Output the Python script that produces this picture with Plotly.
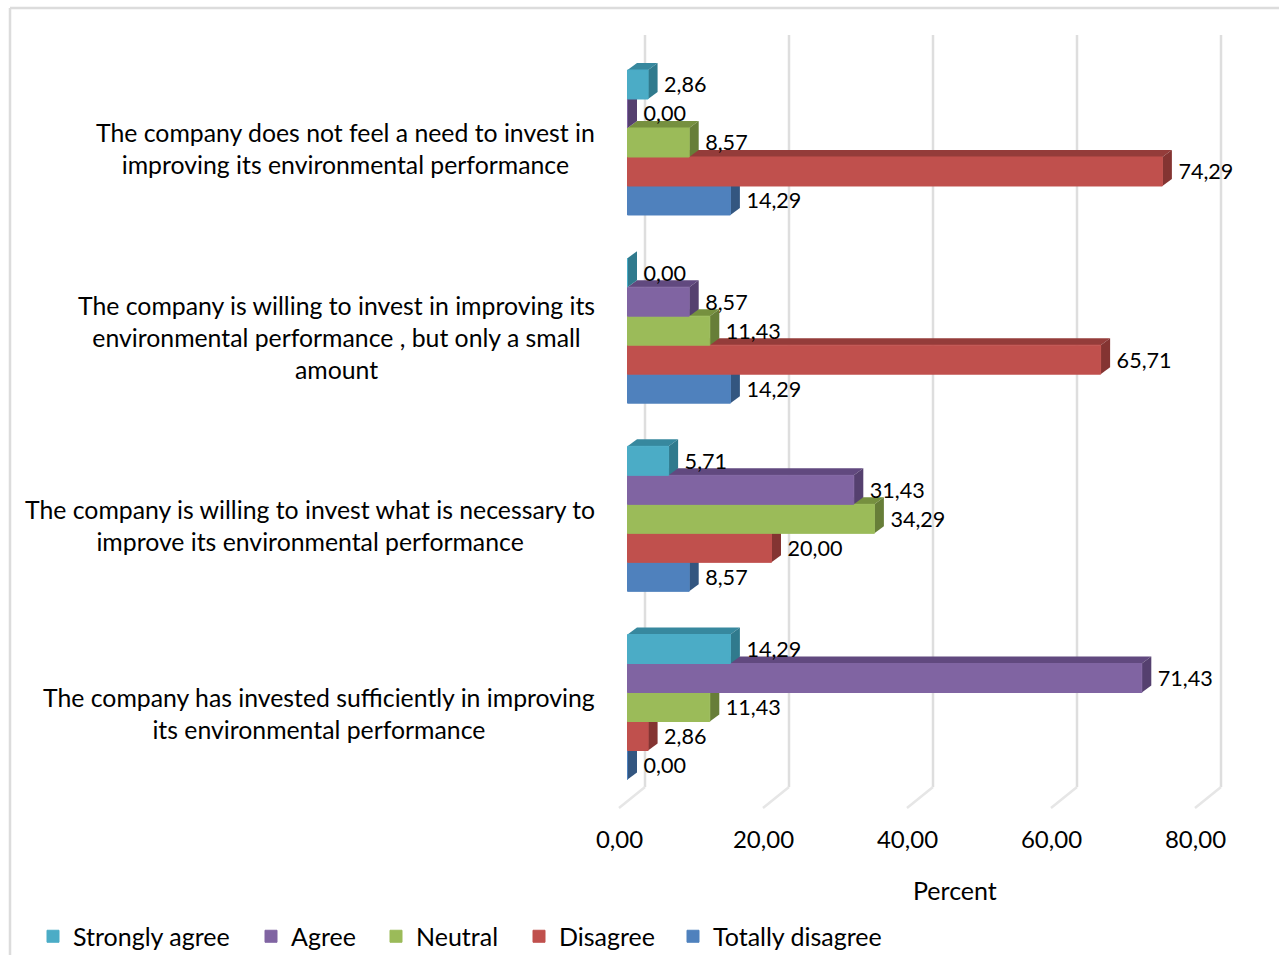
import plotly.graph_objects as go

categories = [
    "The company has invested sufficiently in improving<br>its environmental performance",
    "The company is willing to invest what is necessary to<br>improve its environmental performance",
    "The company is willing to invest in improving its<br>environmental performance , but only a small<br>amount",
    "The company does not feel a need to invest in<br>improving its environmental performance",
]
series_names = ["Totally disagree", "Disagree", "Neutral", "Agree", "Strongly agree"]
totally_disagree = [0.00, 8.57, 14.29, 14.29]
disagree = [2.86, 20.00, 65.71, 74.29]
neutral = [11.43, 34.29, 11.43, 8.57]
agree = [71.43, 31.43, 8.57, 0.00]
strongly_agree = [14.29, 5.71, 0.00, 2.86]
series_values = [totally_disagree, disagree, neutral, agree, strongly_agree]
front_colors = ["#4f81bd", "#c0504d", "#9bbb59", "#8064a2", "#4bacc6"]
top_colors = ["#3b6392", "#943c3a", "#76903f", "#61497f", "#37889e"]
side_colors = ["#335680", "#843432", "#677e38", "#55406f", "#307a8d"]
x_ticks = [0, 20, 40, 60, 80]
legend_px = [673, 519, 376, 251, 33]

W, H = 1279, 955
FONT = "Lato"
PLOT_L, PLOT_R, PLOT_T, PLOT_B = 610, 1240, 30, 812
X0_PX, X_SCALE = 627.5, 7.2          # pixels at value 0, pixels per percent
Y0_PX, Y_SCALE = 707.0, 188.17       # pixels at first category, pixels per category
BAR_PX = 29.0
DEPTH_DX, DEPTH_DY = 9.5 / X_SCALE, 7.0 / Y_SCALE
WALL_DX = 17.5 / X_SCALE
bar_w = BAR_PX / Y_SCALE

x_range = [(PLOT_L - X0_PX) / X_SCALE, (PLOT_R - X0_PX) / X_SCALE]
y_range = [(Y0_PX - PLOT_B) / Y_SCALE, (Y0_PX - PLOT_T) / Y_SCALE]


def paper_x(px):
    return (px - PLOT_L) / (PLOT_R - PLOT_L)


def paper_y(py):
    return (PLOT_B - py) / (PLOT_B - PLOT_T)


def poly(points):
    return "M" + "L".join(f"{x},{y}" for x, y in points) + "Z"


shapes = []
# Frame of the picture
frame = dict(type="line", xref="paper", yref="paper", line=dict(color="#dcdcdc", width=2.5), layer="below")
shapes.append({**frame, "x0": paper_x(10), "x1": paper_x(10), "y0": paper_y(8), "y1": paper_y(955)})
shapes.append({**frame, "x0": paper_x(10), "x1": paper_x(1279), "y0": paper_y(8), "y1": paper_y(8)})

# Back wall grid and floor lines
wall_top = (Y0_PX - 35) / Y_SCALE
wall_bottom = (Y0_PX - 787) / Y_SCALE
floor_dx, floor_dy = 26 / X_SCALE, 21 / Y_SCALE
for t in x_ticks:
    shapes.append(dict(type="line", xref="x", yref="y", layer="below", x0=t + WALL_DX, x1=t + WALL_DX,
                       y0=wall_bottom, y1=wall_top, line=dict(color="#dedede", width=2.5)))
    shapes.append(dict(type="line", xref="x", yref="y", layer="below", x0=t + WALL_DX, x1=t + WALL_DX - floor_dx,
                       y0=wall_bottom, y1=wall_bottom - floor_dy, line=dict(color="#e6e6e6", width=2.5)))

# Top and side faces of each bar, lowest series first
for i, values in enumerate(series_values):
    for c, v in enumerate(values):
        low = c - 2.5 * bar_w + i * bar_w
        high = low + bar_w
        shapes.append(dict(type="path", xref="x", yref="y", layer="below", line=dict(width=0),
                           fillcolor=top_colors[i],
                           path=poly([(0, high), (v, high), (v + DEPTH_DX, high + DEPTH_DY), (DEPTH_DX, high + DEPTH_DY)])))
        shapes.append(dict(type="path", xref="x", yref="y", layer="below", line=dict(width=0),
                           fillcolor=side_colors[i],
                           path=poly([(v, low), (v + DEPTH_DX, low + DEPTH_DY), (v + DEPTH_DX, high + DEPTH_DY), (v, high)])))

fig = go.Figure()
cat_pos = list(range(len(categories)))
for i, name in enumerate(series_names):
    legend_id = "legend" if i == 0 else f"legend{i + 1}"
    fig.add_trace(go.Bar(y=cat_pos, x=series_values[i], name=name, orientation="h",
                         marker=dict(color=front_colors[i], line=dict(color=front_colors[i], width=1)),
                         legend=legend_id, hoverinfo="x+name"))

label_dx = 16 / X_SCALE
label_dy = -2.5 / Y_SCALE
for i, name in enumerate(series_names):
    fig.add_trace(go.Scatter(
        x=[v + label_dx for v in series_values[i]],
        y=[c - 2 * bar_w + i * bar_w + label_dy for c in cat_pos],
        customdata=series_values[i],
        mode="text", texttemplate="%{customdata:.2f}", textposition="middle right",
        textfont=dict(family=FONT, size=21.6, color="#000000"),
        showlegend=False, hoverinfo="skip", cliponaxis=False))

annotations = [dict(xref="x", yref="y", x=0, y=c, xshift=597 - X0_PX, yshift=-6.5, text=t,
                    xanchor="right", yanchor="middle", align="center", showarrow=False,
                    font=dict(family=FONT, size=24.8, color="#000000"))
               for c, t in zip(cat_pos, categories)]
annotations.append(dict(xref="paper", yref="paper", x=paper_x(955), y=paper_y(890), text="Percent",
                        xanchor="center", yanchor="middle", showarrow=False,
                        font=dict(family=FONT, size=25, color="#000000")))

layout = dict(
    width=W, height=H, autosize=False,
    paper_bgcolor="#ffffff", plot_bgcolor="rgba(0,0,0,0)",
    margin=dict(l=PLOT_L, r=W - PLOT_R, t=PLOT_T, b=H - PLOT_B, pad=0, autoexpand=False),
    separators=", ",
    barmode="group", bargap=1 - 5 * bar_w, bargroupgap=0,
    font=dict(family=FONT, size=25, color="#000000"),
    xaxis=dict(range=x_range, tickvals=x_ticks, tickformat=".2f", showgrid=False, zeroline=False, showline=False,
               ticks="", ticklabelstandoff=11, ticklabelshift=-8, tickfont=dict(family=FONT, size=24)),
    yaxis=dict(range=y_range, tickvals=cat_pos, showticklabels=False, showgrid=False, zeroline=False,
               showline=False, ticks=""),
    shapes=shapes, annotations=annotations,
)
for i, px in enumerate(legend_px):
    key = "legend" if i == 0 else f"legend{i + 1}"
    layout[key] = dict(x=paper_x(px), y=paper_y(936.5), xanchor="left", yanchor="middle", orientation="h",
                       bgcolor="rgba(0,0,0,0)", borderwidth=0, font=dict(family=FONT, size=25, color="#000000"))
fig.update_layout(**layout)

fig.write_html("out.html", config=dict(displayModeBar=False),
               post_script="document.body.style.margin='0';document.documentElement.style.overflow='hidden';")
